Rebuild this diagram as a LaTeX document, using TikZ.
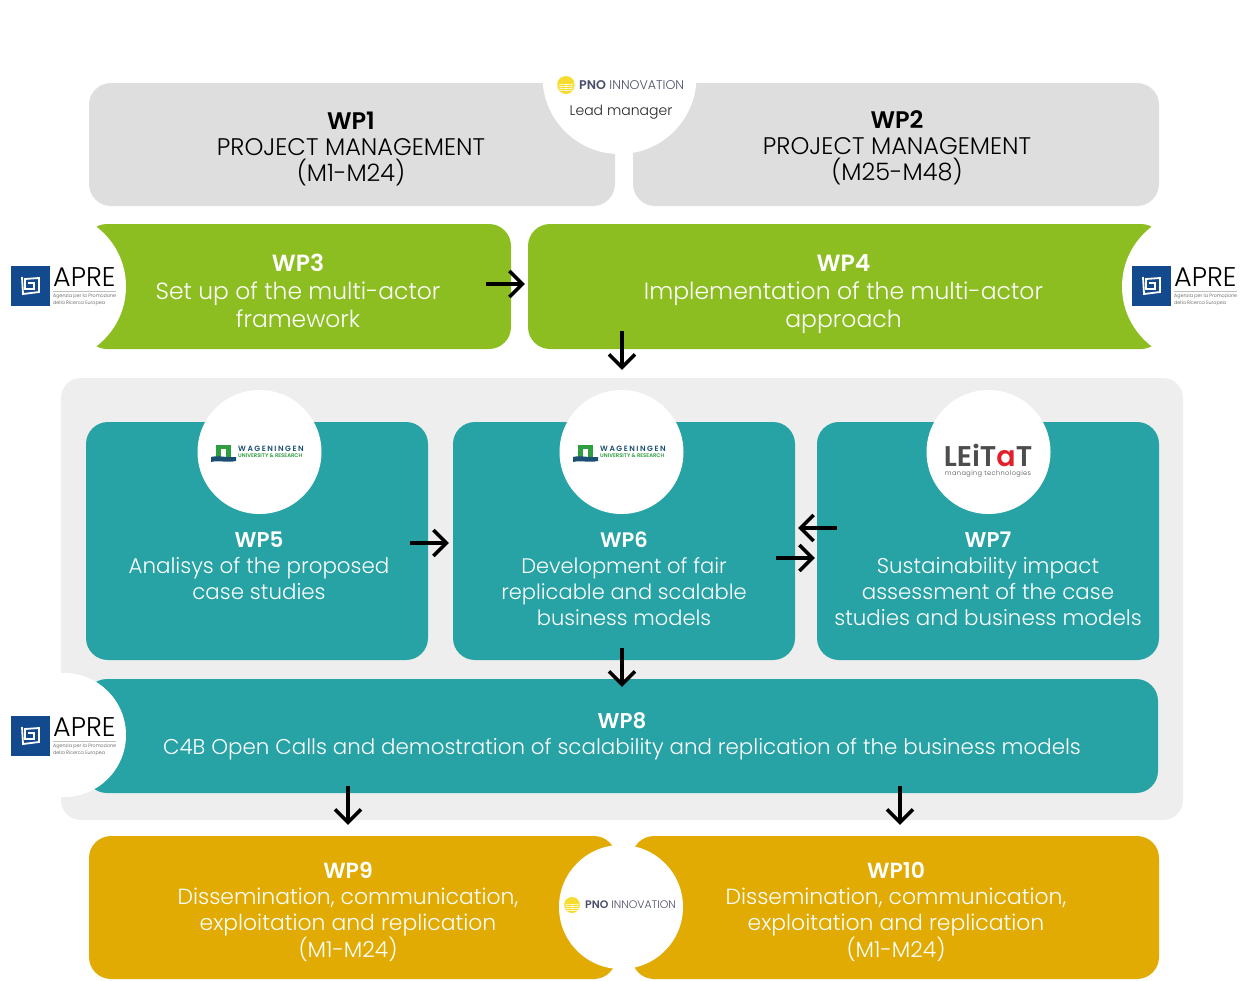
\documentclass[tikz,border=0pt]{standalone}
\usepackage{fontspec}
\setmainfont{Poppins}[UprightFont=* Light, BoldFont=* SemiBold]
\usetikzlibrary{positioning, arrows.meta}

\definecolor{wpgray}{HTML}{DEDEDE}
\definecolor{wppanel}{HTML}{EEEEEE}
\definecolor{wpgreen}{HTML}{8CBE22}
\definecolor{wpteal}{HTML}{27A2A5}
\definecolor{wpgold}{HTML}{E2AB04}
\definecolor{apreblue}{HTML}{134A8E}
\definecolor{pnoink}{HTML}{4A4E69}
\definecolor{pnosun}{HTML}{F5DC2E}
\definecolor{wurgreen}{HTML}{2E9E3F}
\definecolor{wurblue}{HTML}{1B4F72}
\definecolor{leitatgray}{HTML}{4D4D4D}
\definecolor{leitatred}{HTML}{E2202C}

\tikzset{
    wpbox/.style={rectangle, rounded corners=22pt, inner sep=0pt},
    wptext/.style={align=center, inner sep=0pt, text=white, font=\fontsize{21.4}{26}\selectfont},
    logocircle/.style={circle, fill=white, inner sep=0pt, minimum size=124pt},
    flow/.style={-{Straight Barb[length=13pt, width=26pt]}, line width=3.5pt, black},
    logotext/.style={inner sep=0pt, anchor=west}
}

% APRE logo: x, y of the blue square, name prefix
\newcommand{\aprelogo}[3]{
    \begin{scope}[shift={(#1,#2)}]
        \fill[apreblue] (0,0) rectangle (39,40);
        \draw[white, line width=1.8pt] (17,17) -- (23,17) -- (23,23) -- (14,23) -- (14,13) -- (28,12) -- (28,26) -- (12,28) -- (11,11);
        \draw[black!25, line width=.5pt] (42,25) -- (105,25);
        \node[logotext] (#3word) at (42,11) {\fontsize{27}{27}\selectfont APRE};
        \node[logotext, text=black!70] (#3line1) at (42,30) {\fontsize{4.8}{6}\selectfont Agenzia per la Promozione};
        \node[logotext, text=black!70] (#3line2) at (42,37) {\fontsize{4.8}{6}\selectfont della Ricerca Europea};
    \end{scope}
}

% PNO logo: centre of the sun, radius, font size, name
\newcommand{\pnologo}[5]{
    \begin{scope}
        \clip (#1,#2) circle (#3);
        \fill[pnosun] (#1,#2) circle (#3);
        \foreach \k in {0,2,4,6}
            \draw[white, line width=.6pt] ([shift={(-10,\k)}]#1,#2) -- ([shift={(10,\k-1)}]#1,#2);
    \end{scope}
    \node[logotext, text=pnoink] (#5) at ([shift={(13,0)}]#1,#2) {\fontsize{#4}{#4}\selectfont\textbf{PNO} INNOVATION};
}

% Wageningen logo: x, y of the blue wave left end, name
\newcommand{\wurlogo}[3]{
    \begin{scope}[shift={(#1,#2)}]
        \fill[wurgreen] (5,-11) rectangle (20,1);
        \fill[white] (10,-7) rectangle (15,1);
        \fill[wurblue] (0,1) .. controls (8,-1) and (16,2) .. (25,1) -- (25,5) .. controls (16,7) and (8,4) .. (0,6) -- cycle;
        \node[logotext, text=wurblue] (#3a) at (27,-7) {\fontsize{7.6}{8}\selectfont\bfseries\addfontfeatures{LetterSpace=20}WAGENINGEN};
        \node[logotext, text=wurgreen] (#3b) at (27,0) {\fontsize{5.3}{6}\selectfont\bfseries UNIVERSITY \& RESEARCH};
    \end{scope}
}

\begin{document}
\begin{tikzpicture}[x=1pt, y=-1pt, on grid]
    \useasboundingbox (0,0) rectangle (1247,980);

    % Boxes
    \node[wpbox, fill=wppanel, minimum width=1122pt, minimum height=442pt, rounded corners=20pt] (panel) at (622,599) {};
    \node[wpbox, fill=wpgray, minimum width=526pt, minimum height=123pt] (wp1) at (352,144.5) {};
    \node[wpbox, fill=wpgray, minimum width=526pt, minimum height=123pt] (wp2) [right=544pt of wp1] {};
    \node[wpbox, fill=wpgreen, minimum width=426pt, minimum height=125pt] (wp3) at (298,286.5) {};
    \node[wpbox, fill=wpgreen, minimum width=635pt, minimum height=125pt] (wp4) [right=547.5pt of wp3] {};
    \node[wpbox, fill=wpteal, minimum width=342pt, minimum height=238pt] (wp5) at (257,541) {};
    \node[wpbox, fill=wpteal, minimum width=342pt, minimum height=238pt] (wp6) [right=367pt of wp5] {};
    \node[wpbox, fill=wpteal, minimum width=342pt, minimum height=238pt] (wp7) [right=364pt of wp6] {};
    \node[wpbox, fill=wpteal, minimum width=1073pt, minimum height=114pt] (wp8) at (621.5,736) {};
    \node[wpbox, fill=wpgold, minimum width=527pt, minimum height=143pt] (wp9) at (352.5,907.5) {};
    \node[wpbox, fill=wpgold, minimum width=527pt, minimum height=143pt] (wp10) [right=543pt of wp9] {};

    % White circles behind the logos
    \node[logocircle, minimum size=154pt] (lead) at (619.5,77) {};
    \node[logocircle, minimum size=150pt] (apre3) at (51,286.5) {};
    \node[logocircle, minimum size=150pt] (apre4) at (1197,286.5) {};
    \node[logocircle] (wur5) at (259.5,452) {};
    \node[logocircle] (wur6) at (621.5,452) {};
    \node[logocircle] (leitat) at (988.5,452) {};
    \node[logocircle] (apre8) at (64,735) {};
    \node[logocircle] (pno9) at (621,907) {};

    % Logos
    \pnologo{566}{85}{9}{12.6}{pnotop}
    \node[inner sep=0pt, text=black!85, font=\fontsize{14}{16}\selectfont] (leadtext) at (621,112) {Lead manager};
    \aprelogo{11}{266}{aprea}
    \aprelogo{1132}{266}{apreb}
    \aprelogo{11}{716}{aprec}
    \wurlogo{211}{456}{wura}
    \wurlogo{573}{456}{wurb}
    \node[inner sep=0pt, font=\fontsize{28.5}{31}\selectfont\bfseries, text=leitatgray] (leitatword) at (988,455) {LEiT{\color{leitatred}a}T};
    \node[inner sep=0pt, font=\fontsize{6.6}{8}\selectfont\addfontfeatures{LetterSpace=6}, text=leitatgray] (leitatsub) at (988,474) {managing technologies};
    \pnologo{572}{905}{8}{10.9}{pnobot}

    % Labels
    \node[wptext, text=black, font=\fontsize{24}{26}\selectfont] (wp1text) at (351,148.5) {\textbf{WP1}\\PROJECT MANAGEMENT\\(M1-M24)};
    \node[wptext, text=black, font=\fontsize{24}{26}\selectfont] (wp2text) at (897,147.5) {\textbf{WP2}\\PROJECT MANAGEMENT\\(M25-M48)};
    \node[wptext, font=\fontsize{23.4}{28}\selectfont] (wp3text) at (298,291) {\textbf{WP3}\\Set up of the multi-actor\\framework};
    \node[wptext, font=\fontsize{23.5}{28}\selectfont] (wp4text) at (843.5,294) {\textbf{WP4}\\Implementation of the multi-actor\\approach};
    \node[wptext] (wp5text) at (259,566) {\textbf{WP5}\\Analisys of the proposed\\case studies};
    \node[wptext, font=\fontsize{21}{26}\selectfont] (wp6text) at (624,579) {\textbf{WP6}\\Development of fair\\replicable and scalable\\business models};
    \node[wptext] (wp7text) at (988,578.5) {\textbf{WP7}\\Sustainability impact\\assessment of the case\\studies and business models};
    \node[wptext] (wp8text) at (622,736.5) {\textbf{WP8}\\C4B Open Calls and demostration of scalability and replication of the business models};
    \node[wptext, font=\fontsize{21.9}{26}\selectfont] (wp9text) at (348,912) {\textbf{WP9}\\Dissemination, communication,\\exploitation and replication\\(M1-M24)};
    \node[wptext, font=\fontsize{21.9}{26}\selectfont] (wp10text) at (896,912) {\textbf{WP10}\\Dissemination, communication,\\exploitation and replication\\(M1-M24)};

    % Arrows
    \draw[flow] ([shift={(-25,-2.5)}]wp3.east) -- ([shift={(-3,-2.5)}]wp4.west);
    \draw[flow] ([shift={(-223.5,-18)}]wp4.south) -- ([shift={(0,-8)}]panel.north);
    \draw[flow] ([shift={(-18,2)}]wp5.east) -- ([shift={(-4,2)}]wp6.west);
    \draw[flow] ([shift={(-19,17)}]wp6.east) -- ([shift={(-2,17)}]wp7.west);
    \draw[flow] ([shift={(20,-13)}]wp7.west) -- ([shift={(3,-13)}]wp6.east);
    \draw[flow] ([shift={(-2,-12)}]wp6.south) -- ([shift={(0.5,8)}]wp8.north);
    \draw[flow] ([shift={(-273.5,-7)}]wp8.south) -- ([shift={(-4.5,-11)}]wp9.north);
    \draw[flow] ([shift={(278.5,-7)}]wp8.south) -- ([shift={(4.5,-11)}]wp10.north);
\end{tikzpicture}
\end{document}
